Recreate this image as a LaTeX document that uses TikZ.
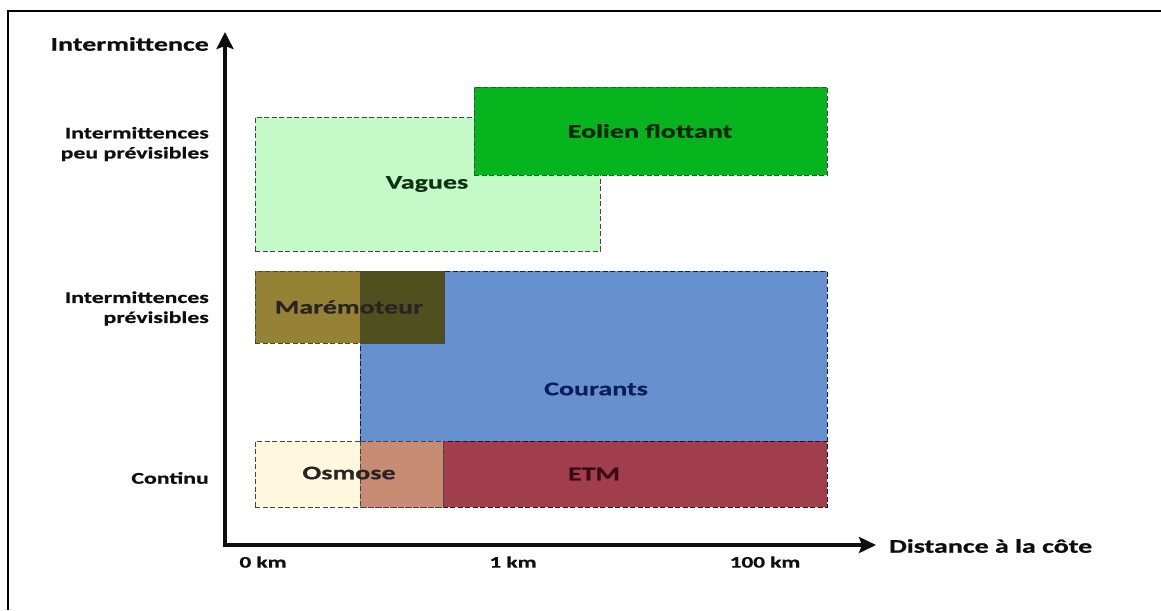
\documentclass[tikz,border=0pt]{standalone}
\usepackage{fontspec}
\setmainfont{Carlito}[FakeStretch=1.45, BoldFeatures={FakeBold=0.8}]
\usetikzlibrary{arrows.meta}
\definecolor{vaguesfill}{RGB}{196,250,200}
\definecolor{eolienfill}{RGB}{6,180,30}
\definecolor{courantsfill}{RGB}{102,145,206}
\definecolor{marefill}{RGB}{150,130,52}
\definecolor{mareover}{RGB}{80,80,30}
\definecolor{osmosefill}{RGB}{255,248,222}
\definecolor{osmoseover}{RGB}{200,140,116}
\definecolor{etmfill}{RGB}{160,62,76}
\definecolor{dashcol}{RGB}{70,70,70}
\definecolor{navy}{RGB}{12,30,90}
\definecolor{darkgreentext}{RGB}{15,50,20}
\definecolor{etmtext}{RGB}{60,10,20}
\definecolor{axiscol}{RGB}{15,15,15}
\begin{document}
\begin{tikzpicture}[x=1pt,y=-1pt,
  box/.style={draw=#1, dash pattern=on 5pt off 2.5pt, line width=0.9pt, inner sep=0pt, outer sep=0pt},
  box/.default=dashcol,
  big/.style={font=\bfseries\fontsize{19.3}{22}\selectfont, inner sep=0pt},
  small/.style={font=\bfseries\fontsize{16.4}{20}\selectfont, inner sep=0pt, align=right},
  tick/.style={font=\bfseries\fontsize{16}{19}\selectfont, inner sep=0pt, text=axiscol},
  axis/.style={line width=4pt, draw=axiscol, line join=miter}
]
\useasboundingbox (0,0) rectangle (1161,610);
\fill[white] (0,0) rectangle (1161,610);
% frame (top and left sides visible)
\draw[line width=2pt, black] (8,610) -- (8,11) -- (1161,11);

% boxes
\node[box, fill=vaguesfill, minimum width=345pt, minimum height=134pt] (vagues) at (427.5,184) {};
\node[box, fill=eolienfill, minimum width=353pt, minimum height=88pt] (eolien) at (650.5,131) {};
\node[box=navy, fill=courantsfill, minimum width=467pt, minimum height=236pt] (courants) at (593.5,389) {};
\node[box, fill=marefill, minimum width=189pt, minimum height=72pt] (mare) at (349.5,307) {};
\filldraw[fill=mareover, draw=dashcol, dash pattern=on 5pt off 2.5pt, line width=0.9pt] (courants.north west) rectangle (mare.south east);
\node[box=etmtext, fill=etmfill, minimum width=467pt, minimum height=66pt] (etm) at (593.5,474) {};
\node[box, fill=osmosefill, minimum width=188pt, minimum height=66pt] (osmose) at (349,474) {};
\filldraw[fill=osmoseover, draw=dashcol, dash pattern=on 5pt off 2.5pt, line width=0.9pt] (etm.north west) rectangle (osmose.south east);

% box labels
\node[big, text=darkgreentext] (vaguesL) at (427,184) {Vagues};
\node[big, text=black!85!green] (eolienL) at (650,131) {Eolien flottant};
\node[big, text=navy] (courantsL) at (596,389) {Courants};
\node[big, text=black!95!olive] (mareL) at (349,307) {Marémoteur};
\node[big, text=black!85] (osmoseL) at (349,473) {Osmose};
\node[big, text=etmtext] (etmL) at (594,474) {ETM};

% axes
\coordinate (O) at (225,545);
\coordinate (ytip) at (225,32);
\coordinate (xtip) at (876,545);
\draw[axis, {Stealth[length=17pt,width=17pt,inset=3pt]}-{Stealth[length=17pt,width=16pt,inset=3pt]}] (ytip) -- (O) -- (xtip);

% axis labels
\node[big, text=axiscol, anchor=east] (ylab) at (209,44) {Intermittence};
\node[big, text=axiscol, anchor=west] (xlab) at (889,546) {Distance à la côte};
\node[small, text=axiscol, anchor=east] (c1) at (209,144) {Intermittences\\peu prévisibles};
\node[small, text=axiscol, anchor=east] (c2) at (209,308.5) {Intermittences\\prévisibles};
\node[small, text=axiscol, anchor=east] (c3) at (209,478) {Continu};
\node[tick] (t0) at (263,562) {0 km};
\node[tick] (t1) at (513,562) {1 km};
\node[tick] (t2) at (765,562) {100 km};
\end{tikzpicture}
\end{document}
